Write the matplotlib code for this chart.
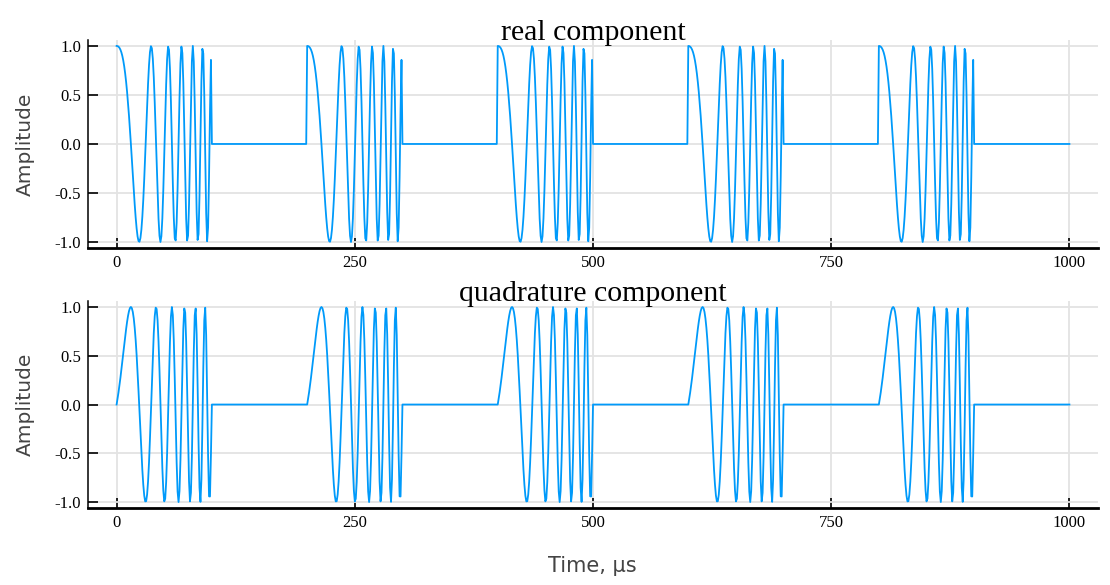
import matplotlib
matplotlib.use("Agg")
import matplotlib.pyplot as plt
import numpy as np

# pulse train (times in microseconds)
pulse_starts = [0, 200, 400, 600, 800]
pulse_width = 100
total_time = 1000
sample_step = 1
f_start = 0.009        # MHz, start frequency of the sweep
chirp_rate = 0.001025  # MHz per microsecond

# complex baseband LFM pulse train
t = np.arange(0, total_time + sample_step, sample_step)
signal = np.zeros(len(t), dtype=complex)
for t0 in pulse_starts:
    m = (t >= t0) & (t < t0 + pulse_width)
    tau = t[m] - t0
    phase = 2 * np.pi * (f_start * tau + 0.5 * chirp_rate * tau ** 2)
    signal[m] = np.exp(1j * phase)

line_color = (0 / 255, 154 / 255, 250 / 255)
serif = ['Liberation Serif', 'DejaVu Serif']

fig = plt.figure(figsize=(11.1, 5.85), dpi=100)
ax1 = fig.add_axes([0.0793, 0.5761, 0.9099, 0.3556])
ax2 = fig.add_axes([0.0793, 0.1316, 0.9099, 0.3538])

panels = [(ax1, signal.real, 'real component'),
          (ax2, signal.imag, 'quadrature component')]

for ax, y, title in panels:
    ax.plot(t, y, color=line_color, linewidth=1.3, zorder=3)
    ax.set_xlim(-30, 1030)
    ax.set_ylim(-1.061, 1.061)
    ax.set_xticks([0, 250, 500, 750, 1000])
    ax.set_yticks([-1.0, -0.5, 0.0, 0.5, 1.0])
    ax.set_yticklabels(['-1.0', '-0.5', '0.0', '0.5', '1.0'])
    ax.grid(True, color='#e3e3e3', linewidth=1.3, zorder=0)
    ax.spines['top'].set_visible(False)
    ax.spines['right'].set_visible(False)
    ax.spines['bottom'].set_linewidth(2)
    ax.spines['left'].set_linewidth(1.1)
    ax.tick_params(direction='in', length=7, width=1.2, pad=5, labelsize=12)
    for lab in ax.get_xticklabels() + ax.get_yticklabels():
        lab.set_family(serif)
    ax.set_title(title, family=serif, fontsize=21.5, y=1.0, pad=0)
    ax.set_ylabel('Amplitude', fontsize=14.5, color='#444444', labelpad=14)

fig.text(0.534, 0.015, 'Time, μs', fontsize=15, color='#444444', ha='center', va='bottom')

plt.savefig('out.png', dpi=100)
